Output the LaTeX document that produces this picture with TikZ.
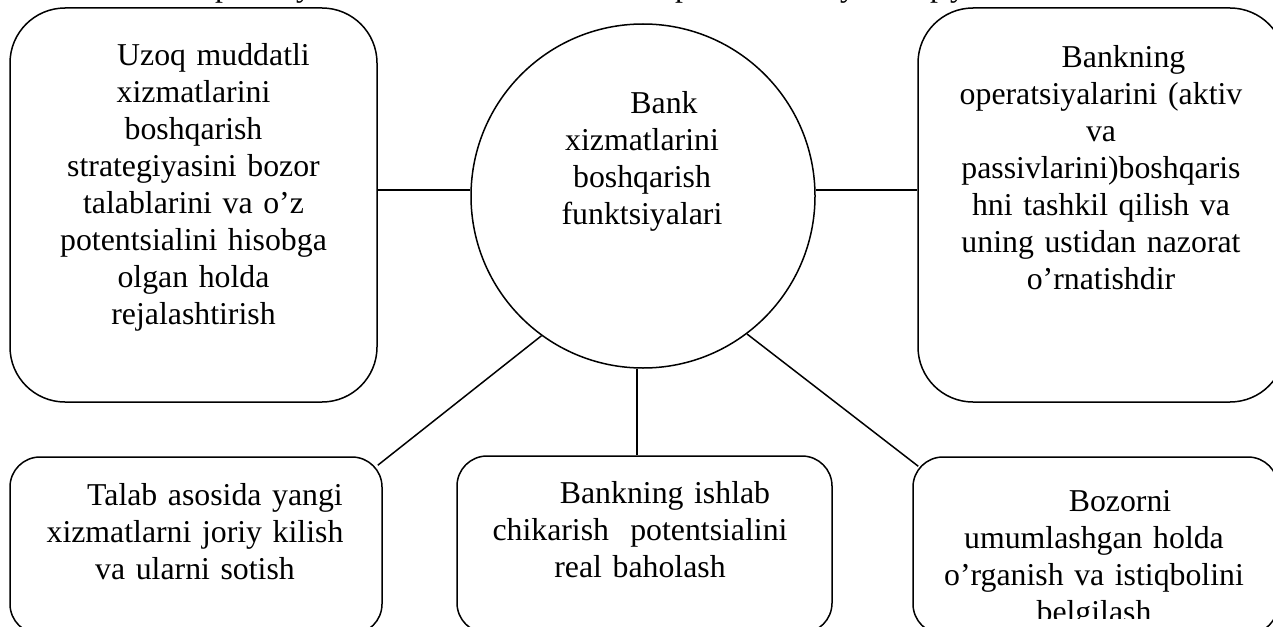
\documentclass[tikz,border=0pt]{standalone}
\usepackage{fontspec}
\setmainfont{Liberation Serif}
\usetikzlibrary{calc}
\begin{document}
\begin{tikzpicture}[x=1pt,y=-1pt,
  box/.style={draw,line width=1.5pt,rounded corners=#1,inner sep=0pt},
  bigbox/.style={box=55pt,minimum width=367pt,minimum height=394pt},
  smallbox/.style={box=30pt,minimum height=177pt},
  ring/.style={draw,line width=1.5pt,circle,minimum size=344pt,inner sep=0pt},
  txt/.style={align=center,inner sep=0pt,anchor=north,font=\fontsize{31.8}{37}\selectfont},
  link/.style={line width=1.5pt},
  frag/.style={inner sep=0pt,anchor=base west,font=\fontsize{31.8}{37}\selectfont}]
\useasboundingbox (0,0) rectangle (1273,626);
\clip (0,0) rectangle (1273,626);
\fill[white] (0,0) rectangle (1273,626);
% cut-off line of text above the picture
\node[frag] (f1) at (215,-3) {p};
\node[frag] (f2) at (296,-3) {y};
\node[frag] (f3) at (675,-3) {p};
\node[frag] (f4) at (840,-3) {y};
\node[frag] (f5) at (930,-3) {p};
\node[frag] (f6) at (950,-3) {y};
% shapes
\node[bigbox] (tl) at (193.5,205) {};
\node[bigbox] (tr) at (1101.5,205) {};
\node[ring] (c) at (643,196) {};
\node[smallbox,minimum width=372pt] (bl) at (196,545.5) {};
\node[smallbox,minimum width=375pt] (bm) at (644.5,544.5) {};
\node[smallbox,minimum width=365pt] (br) at (1095.5,545.5) {};
% texts
\node[txt,text width=367pt] (tlt) at (193.5,43) {\hspace*{40pt}Uzoq muddatli\\ xizmatlarini\\ boshqarish\\ strategiyasini bozor\\ talablarini va o’z\\ potentsialini hisobga\\ olgan holda\\ rejalashtirish};
\node[txt,text width=340pt] (ct) at (642,91) {\hspace*{44pt}Bank\\ xizmatlarini\\ boshqarish\\ funktsiyalari};
\node[txt,text width=360pt] (trt) at (1101,45) {\hspace*{45pt}Bankning\\ operatsiyalarini (aktiv\\ va\\ passivlarini)boshqaris\\ hni tashkil qilish va\\ uning ustidan nazorat\\ o’rnatishdir};
\node[txt,text width=372pt] (blt) at (195,483) {\hspace*{40pt}Talab asosida yangi\\ xizmatlarni joriy kilish\\ va ularni sotish};
\node[txt,text width=375pt] (bmt) at (640,481) {\hspace*{50pt}Bankning ishlab\\ chikarish\ \ potentsialini\\ real baholash};
\begin{scope}
\clip (900,440) rectangle (1273,618);
\node[txt,text width=365pt] (brt) at (1094,490) {\hspace*{52pt}Bozorni\\ umumlashgan holda\\ o’rganish va istiqbolini\\ belgilash};
\end{scope}
% connectors
\draw[link] (c.178) -- (c.178 -| tl.east);
\draw[link] (c.2) -- (c.2 -| tr.west);
\draw[link] (c.268) -- (c.268 |- bm.north);
\coordinate (blend) at ($(bl.north east)+(-5,9)$);
\coordinate (brend) at ($(br.north west)+(6,10)$);
\draw[link] (c.234) -- (blend);
\draw[link] (c.307.7) -- (brend);
\end{tikzpicture}
\end{document}
